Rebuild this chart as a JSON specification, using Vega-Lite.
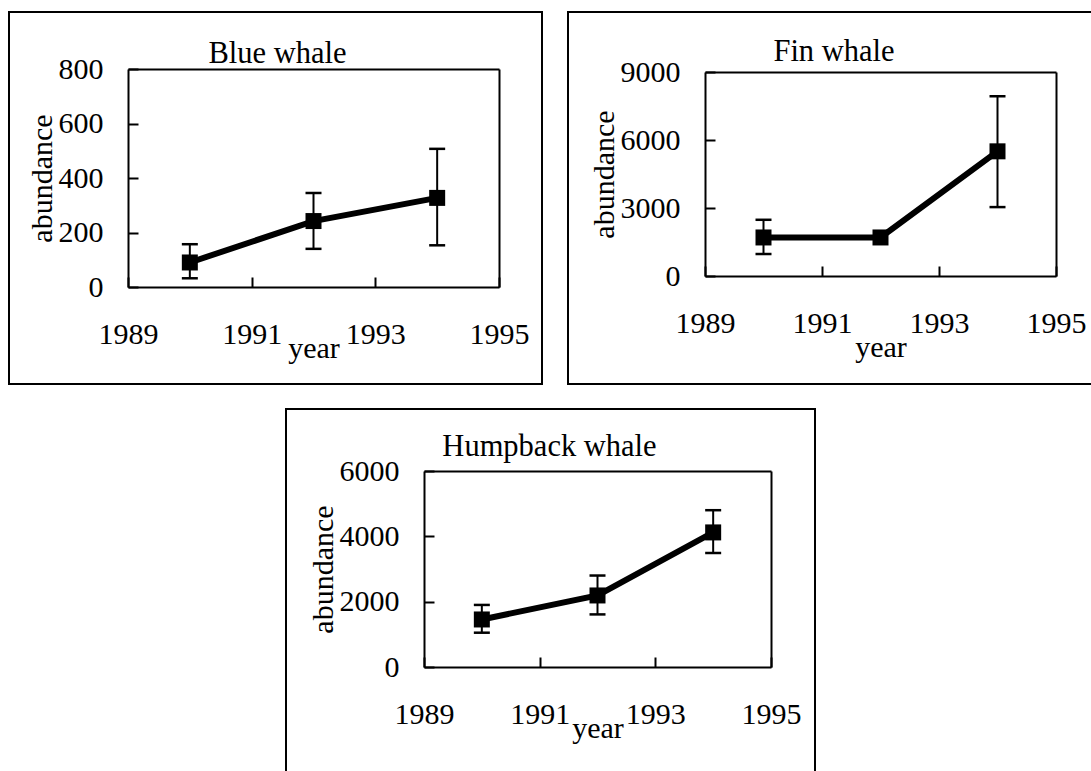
{
  "$schema": "https://vega.github.io/schema/vega-lite/v6.json",
  "padding": {"left": 8, "top": 11, "right": 0, "bottom": 0},
  "background": "white",
  "datasets": {
    "whales": [
      {"species": "Blue whale", "year": 1990, "abundance": 90, "low": 32, "high": 157},
      {"species": "Blue whale", "year": 1992, "abundance": 242, "low": 140, "high": 345},
      {"species": "Blue whale", "year": 1994, "abundance": 327, "low": 153, "high": 507},
      {"species": "Fin whale", "year": 1990, "abundance": 1700, "low": 970, "high": 2480},
      {"species": "Fin whale", "year": 1992, "abundance": 1700, "low": null, "high": null},
      {"species": "Fin whale", "year": 1994, "abundance": 5500, "low": 3040, "high": 7930},
      {"species": "Humpback whale", "year": 1990, "abundance": 1455, "low": 1050, "high": 1900},
      {"species": "Humpback whale", "year": 1992, "abundance": 2190, "low": 1610, "high": 2800},
      {"species": "Humpback whale", "year": 1994, "abundance": 4120, "low": 3490, "high": 4800}
    ]
  },
  "vconcat": [
    {
      "hconcat": [
        {
          "width": 533, "height": 372,
          "data": {"name": "whales"},
          "transform": [{"filter": "datum.species === 'Blue whale'"}],
          "title": {"text": "Blue whale", "frame": "group", "anchor": "middle", "orient": "top", "baseline": "alphabetic", "offset": -81, "dx": 2},
          "layer": [
            {
              "mark": {"type": "line", "color": "black", "strokeWidth": 6},
              "encoding": {
                "x": {"field": "year", "type": "quantitative", "scale": {"domain": [1989, 1995], "range": [119, 490], "nice": false, "zero": false},
                  "axis": {"orient": "bottom", "offset": -97, "values": [1989, 1991, 1993, 1995], "format": "d", "title": "year", "titlePadding": -16}},
                "y": {"field": "abundance", "type": "quantitative", "scale": {"domain": [0, 800], "range": [275, 57], "nice": false},
                  "axis": {"orient": "left", "offset": -119, "values": [0, 200, 400, 600, 800], "format": "d", "title": "abundance", "titlePadding": 1}}
              }
            },
            {
              "mark": {"type": "rule", "color": "black", "strokeWidth": 2},
              "encoding": {
                "x": {"field": "year", "type": "quantitative", "axis": {"orient": "top", "offset": -57, "ticks": false, "labels": false, "title": null}},
                "y": {"field": "low", "type": "quantitative", "axis": {"orient": "right", "offset": -43, "ticks": false, "labels": false, "title": null}},
                "y2": {"field": "high"}
              }
            },
            {
              "mark": {"type": "tick", "orient": "horizontal", "color": "black", "size": 16, "thickness": 2.5, "opacity": 1},
              "encoding": {"x": {"field": "year", "type": "quantitative", "axis": null}, "y": {"field": "low", "type": "quantitative", "axis": null}}
            },
            {
              "mark": {"type": "tick", "orient": "horizontal", "color": "black", "size": 16, "thickness": 2.5, "opacity": 1},
              "encoding": {"x": {"field": "year", "type": "quantitative", "axis": null}, "y": {"field": "high", "type": "quantitative", "axis": null}}
            },
            {
              "mark": {"type": "point", "shape": "square", "filled": true, "color": "black", "size": 256, "opacity": 1},
              "encoding": {"x": {"field": "year", "type": "quantitative", "axis": null}, "y": {"field": "abundance", "type": "quantitative", "axis": null}}
            }
          ],
          "resolve": {"axis": {"x": "independent", "y": "independent"}}
        },
        {
          "width": 524, "height": 372,
          "data": {"name": "whales"},
          "transform": [{"filter": "datum.species === 'Fin whale'"}],
          "title": {"text": "Fin whale", "frame": "group", "anchor": "middle", "orient": "top", "baseline": "alphabetic", "offset": -79, "dx": 4},
          "layer": [
            {
              "mark": {"type": "line", "color": "black", "strokeWidth": 6},
              "encoding": {
                "x": {"field": "year", "type": "quantitative", "scale": {"domain": [1989, 1995], "range": [137, 488], "nice": false, "zero": false},
                  "axis": {"orient": "bottom", "offset": -108, "values": [1989, 1991, 1993, 1995], "format": "d", "title": "year", "titlePadding": -6}},
                "y": {"field": "abundance", "type": "quantitative", "scale": {"domain": [0, 9000], "range": [264, 60], "nice": false},
                  "axis": {"orient": "left", "offset": -137, "values": [0, 3000, 6000, 9000], "format": "d", "title": "abundance", "titlePadding": 1}}
              }
            },
            {
              "mark": {"type": "rule", "color": "black", "strokeWidth": 2},
              "encoding": {
                "x": {"field": "year", "type": "quantitative", "axis": {"orient": "top", "offset": -60, "ticks": false, "labels": false, "title": null}},
                "y": {"field": "low", "type": "quantitative", "axis": {"orient": "right", "offset": -36, "ticks": false, "labels": false, "title": null}},
                "y2": {"field": "high"}
              }
            },
            {
              "mark": {"type": "tick", "orient": "horizontal", "color": "black", "size": 16, "thickness": 2.5, "opacity": 1},
              "encoding": {"x": {"field": "year", "type": "quantitative", "axis": null}, "y": {"field": "low", "type": "quantitative", "axis": null}}
            },
            {
              "mark": {"type": "tick", "orient": "horizontal", "color": "black", "size": 16, "thickness": 2.5, "opacity": 1},
              "encoding": {"x": {"field": "year", "type": "quantitative", "axis": null}, "y": {"field": "high", "type": "quantitative", "axis": null}}
            },
            {
              "mark": {"type": "point", "shape": "square", "filled": true, "color": "black", "size": 256, "opacity": 1},
              "encoding": {"x": {"field": "year", "type": "quantitative", "axis": null}, "y": {"field": "abundance", "type": "quantitative", "axis": null}}
            }
          ],
          "resolve": {"axis": {"x": "independent", "y": "independent"}}
        }
      ],
      "spacing": 24
    },
    {
      "width": 529, "height": 364,
      "data": {"name": "whales"},
      "transform": [{"filter": "datum.species === 'Humpback whale'"}],
      "title": {"text": "Humpback whale", "frame": "group", "anchor": "middle", "orient": "top", "baseline": "alphabetic", "offset": -77, "dx": -1},
      "layer": [
        {
          "mark": {"type": "line", "color": "black", "strokeWidth": 6},
          "encoding": {
            "x": {"field": "year", "type": "quantitative", "scale": {"domain": [1989, 1995], "range": [138, 485], "nice": false, "zero": false},
              "axis": {"orient": "bottom", "offset": -106, "values": [1989, 1991, 1993, 1995], "format": "d", "title": "year", "titlePadding": -16}},
            "y": {"field": "abundance", "type": "quantitative", "scale": {"domain": [0, 6000], "range": [258, 62], "nice": false},
              "axis": {"orient": "left", "offset": -138, "values": [0, 2000, 4000, 6000], "format": "d", "title": "abundance", "titlePadding": 1}}
          }
        },
        {
          "mark": {"type": "rule", "color": "black", "strokeWidth": 2},
          "encoding": {
            "x": {"field": "year", "type": "quantitative", "axis": {"orient": "top", "offset": -62, "ticks": false, "labels": false, "title": null}},
            "y": {"field": "low", "type": "quantitative", "axis": {"orient": "right", "offset": -44, "ticks": false, "labels": false, "title": null}},
            "y2": {"field": "high"}
          }
        },
        {
          "mark": {"type": "tick", "orient": "horizontal", "color": "black", "size": 16, "thickness": 2.5, "opacity": 1},
          "encoding": {"x": {"field": "year", "type": "quantitative", "axis": null}, "y": {"field": "low", "type": "quantitative", "axis": null}}
        },
        {
          "mark": {"type": "tick", "orient": "horizontal", "color": "black", "size": 16, "thickness": 2.5, "opacity": 1},
          "encoding": {"x": {"field": "year", "type": "quantitative", "axis": null}, "y": {"field": "high", "type": "quantitative", "axis": null}}
        },
        {
          "mark": {"type": "point", "shape": "square", "filled": true, "color": "black", "size": 256, "opacity": 1},
          "encoding": {"x": {"field": "year", "type": "quantitative", "axis": null}, "y": {"field": "abundance", "type": "quantitative", "axis": null}}
        }
      ],
      "resolve": {"axis": {"x": "independent", "y": "independent"}}
    }
  ],
  "spacing": 23,
  "center": true,
  "config": {
    "font": "Liberation Serif",
    "view": {"stroke": "black", "strokeWidth": 2},
    "title": {"font": "Liberation Serif", "fontSize": 30.5, "fontWeight": "normal", "color": "black"},
    "axis": {
      "grid": false,
      "domainColor": "black", "domainWidth": 2,
      "tickColor": "black", "tickWidth": 2, "tickSize": -10,
      "labelFont": "Liberation Serif", "labelFontSize": 30, "labelColor": "black",
      "labelFlush": false, "labelOverlap": false,
      "titleFont": "Liberation Serif", "titleFontSize": 30, "titleFontWeight": "normal", "titleColor": "black"
    },
    "axisBottom": {"labelPadding": 42},
    "axisLeft": {"labelPadding": 35}
  }
}
